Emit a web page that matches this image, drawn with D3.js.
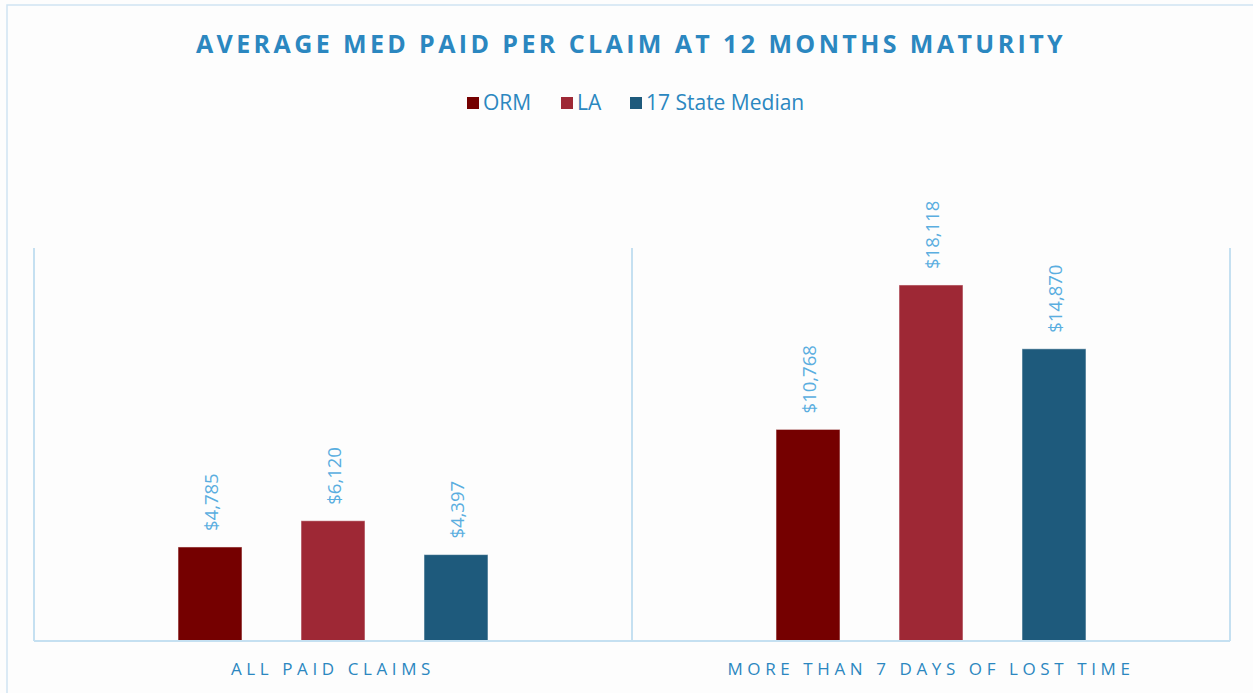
<!DOCTYPE html>
<html><head><meta charset="utf-8">
<script src="https://cdn.jsdelivr.net/npm/d3@7"></script>
<style>body{margin:0;background:#fff;}svg{display:block;}</style>
</head><body><svg id="c" width="1253" height="693"></svg>
<script>
const categories = ["ALL PAID CLAIMS", "MORE THAN 7 DAYS OF LOST TIME"];
const seriesNames = ["ORM", "LA", "17 State Median"];
const ormValues = [4785, 10768];
const laValues = [6120, 18118];
const stateValues = [4397, 14870];
const seriesColors = ["#750000", "#9e2835", "#1e5a7c"];

(function () {
const svg = d3.select("#c");
const W = 1253, H = 693;
svg.append("rect").attr("width", W).attr("height", H).attr("fill", "#fdfdfd");
svg.append("rect").attr("x", 7).attr("y", 5).attr("width", W + 10).attr("height", H + 10)
  .attr("fill", "none").attr("stroke", "#cfe4f2").attr("stroke-width", 1.5);

const pLeft = 34, pRight = 1230, pTop = 248, pBase = 641;
const x0 = d3.scaleBand().domain(categories).range([pLeft, pRight]).padding(0);
const x1 = d3.scaleBand().domain(seriesNames).range([0, x0.bandwidth()]).paddingInner(0.48).paddingOuter(1.171);
const y = d3.scaleLinear().domain([0, 20000]).range([pBase, pTop]);

const axisColor = "#c5e0f1";
const seps = [pLeft, pLeft + x0.bandwidth(), pRight];
svg.selectAll("line.sep").data(seps).enter().append("line")
  .attr("x1", d => d).attr("x2", d => d).attr("y1", pTop).attr("y2", pBase)
  .attr("stroke", axisColor).attr("stroke-width", 2);
svg.append("text").attr("x", 631).attr("y", 53).attr("text-anchor", "middle")
  .attr("font-family", "Open Sans").attr("font-weight", "bold").attr("font-size", 25)
  .attr("letter-spacing", 3.4).attr("fill", "#2b87c0")
  .text("AVERAGE MED PAID PER CLAIM AT 12 MONTHS MATURITY");

const legX = [467, 561, 630];
const lg = svg.selectAll("g.leg").data(seriesNames).enter().append("g")
  .attr("transform", (d, i) => `translate(${legX[i]},97)`);
lg.append("rect").attr("width", 12).attr("height", 12).attr("fill", (d, i) => seriesColors[i]);
lg.append("text").attr("x", 16).attr("y", 13).attr("font-family", "Open Sans").attr("font-size", 21)
  .attr("fill", "#2b87c0").text(d => d);

const data = categories.map((c, ci) => ({
  cat: c,
  vals: [ormValues[ci], laValues[ci], stateValues[ci]].map((v, si) => ({ s: seriesNames[si], v, si }))
}));
const groups = svg.selectAll("g.grp").data(data).enter().append("g")
  .attr("transform", d => `translate(${x0(d.cat)},0)`);
groups.selectAll("rect").data(d => d.vals).enter().append("rect")
  .attr("x", d => x1(d.s)).attr("width", x1.bandwidth())
  .attr("y", d => y(d.v)).attr("height", d => pBase - y(d.v))
  .attr("fill", d => seriesColors[d.si]).attr("stroke", "rgba(255,255,255,0.5)").attr("stroke-width", 1);
groups.selectAll("text.lbl").data(d => d.vals).enter().append("text")
  .attr("transform", d => `translate(${x1(d.s) + x1.bandwidth() / 2 + 8},${y(d.v) - 16}) rotate(-90)`)
  .attr("font-family", "Open Sans").attr("font-size", 18.5).attr("fill", "#5aaee0")
  .text(d => "$" + d3.format(",")(d.v));

svg.append("line").attr("x1", pLeft).attr("x2", pRight).attr("y1", pBase).attr("y2", pBase)
  .attr("stroke", axisColor).attr("stroke-width", 2);

svg.selectAll("text.cat").data(categories).enter().append("text")
  .attr("x", d => x0(d) + x0.bandwidth() / 2).attr("y", 675).attr("text-anchor", "middle")
  .attr("font-family", "Open Sans").attr("font-size", 17).attr("letter-spacing", 4.6)
  .attr("fill", "#2b87c0").text(d => d);
})();
</script></body></html>
